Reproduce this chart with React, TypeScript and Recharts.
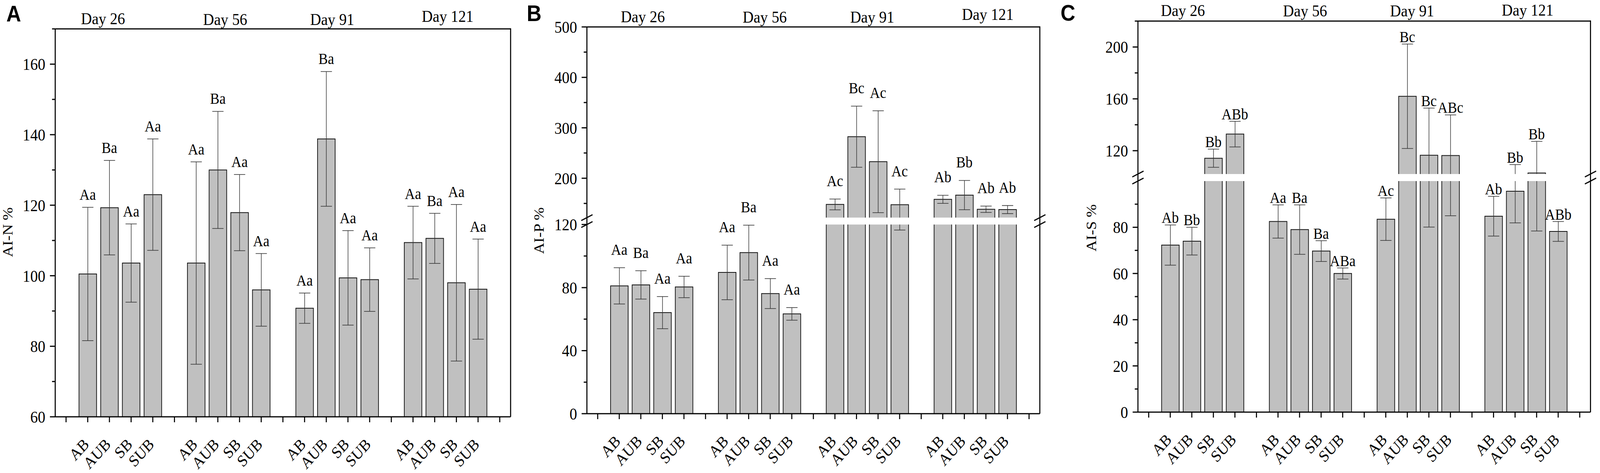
import React from 'react';
import { ComposedChart, Bar, Line, XAxis, YAxis, ErrorBar, LabelList, ReferenceArea } from 'recharts';

// ---------- data ----------
const TREATMENTS = ['AB', 'AUB', 'SB', 'SUB'];
const DAYS = ['Day 26', 'Day 56', 'Day 91', 'Day 121'];

// Panel A : AI-N %
const alnMean = [100.5, 119.3, 103.6, 123.0, 103.6, 130.0, 117.9, 96.0, 90.8, 138.8, 99.4, 98.9, 109.4, 110.6, 98.0, 96.2];
const alnErr = [18.9, 13.4, 11.1, 15.8, 28.7, 16.6, 10.8, 10.3, 4.3, 19.1, 13.4, 9.0, 10.3, 7.1, 22.2, 14.2];
const alnSig = ['Aa', 'Ba', 'Aa', 'Aa', 'Aa', 'Ba', 'Aa', 'Aa', 'Aa', 'Ba', 'Aa', 'Aa', 'Aa', 'Ba', 'Aa', 'Aa'];
const alnTicksMajor = [60, 80, 100, 120, 140, 160];
const alnTicksMinor = [70, 90, 110, 130, 150, 170];

// Panel B : AI-P %
const alpMean = [81.1, 81.7, 64.1, 80.4, 89.6, 102.2, 76.2, 63.3, 148.1, 282.4, 232.8, 147.5, 158.2, 166.6, 138.5, 137.9];
const alpErr = [11.5, 9.0, 10.2, 6.8, 17.3, 17.4, 9.5, 4.0, 10.7, 60.6, 101.0, 31.0, 8.0, 29.0, 6.3, 8.0];
const alpSig = ['Aa', 'Ba', 'Aa', 'Aa', 'Aa', 'Ba', 'Aa', 'Aa', 'Ac', 'Bc', 'Ac', 'Ac', 'Ab', 'Bb', 'Ab', 'Ab'];
const alpTicksMajor = [0, 40, 80, 120, 200, 300, 400, 500];
const alpTicksMinor = [20, 60, 100, 150, 250, 350, 450];

// Panel C : AI-S %
const alsMean = [72.3, 74.0, 114.2, 132.8, 82.5, 79.0, 69.7, 60.0, 83.5, 162.0, 116.5, 116.3, 84.8, 95.6, 102.8, 78.2];
const alsErr = [8.7, 6.0, 7.0, 9.9, 7.2, 10.7, 4.5, 2.4, 9.2, 40.3, 36.4, 31.3, 8.6, 13.7, 24.4, 4.3];
const alsSig = ['Ab', 'Bb', 'Bb', 'ABb', 'Aa', 'Ba', 'Ba', 'ABa', 'Ac', 'Bc', 'Bc', 'ABc', 'Ab', 'Bb', 'Bb', 'ABb'];
const alsTicksMajor = [0, 20, 40, 60, 80, 120, 160, 200];
const alsTicksMinor = [10, 30, 50, 70, 90, 140, 180, 220];

// ---------- styling ----------
const SERIF = '"Liberation Serif", "Times New Roman", serif';
const SANS = '"Liberation Sans", Arial, sans-serif';
const CW = 4550;
const CH = 1212;

type Brk = { lowMax: number; highMin: number; gap: number; k: number } | null;

function toD(v: number, b: Brk): number {
  if (!b) return v;
  if (v <= b.lowMax) return v;
  if (v >= b.highMin) return b.lowMax + b.gap + (v - b.highMin) * b.k;
  return b.lowMax + ((v - b.lowMax) / (b.highMin - b.lowMax)) * b.gap;
}

function buildRows(means: number[], errs: number[], sigs: string[], brk: Brk) {
  const rows: any[] = [];
  DAYS.forEach((_, g) => {
    rows.push({ key: `gap|${g}` });
    TREATMENTS.forEach((t, i) => {
      const idx = g * 4 + i;
      const m = means[idx];
      const e = errs[idx];
      const dm = toD(m, brk);
      const hi = toD(m + e, brk);
      const lo = toD(m - e, brk);
      rows.push({ key: `${t}|${g}`, bar: dm, err: [dm - lo, hi - dm], top: hi, sig: sigs[idx] });
    });
  });
  rows.push({ key: `gap|${DAYS.length}` });
  return rows;
}

function makeTicks(major: number[], minor: number[], brk: Brk) {
  const all = [
    ...major.map((v) => ({ v, major: true })),
    ...minor.map((v) => ({ v, major: false })),
  ].sort((a, b) => a.v - b.v);
  return all.map((t) => ({ ...t, d: toD(t.v, brk) }));
}

const PANELS = [
  {
    letter: 'A', letterX: 18, letterY: 55,
    title: 'AI-N %', titleX: 35, titleY: 595,
    means: alnMean, errs: alnErr, sigs: alnSig, major: alnTicksMajor, minor: alnTicksMinor,
    left: 0, width: 1500, plotLeft: 157, plotRight: 1452, plotTop: 74, plotBottom: 1068,
    domain: [60, 170], brk: null as Brk, labelOffset: 19,
    dayDx: [-49, -10, -14, 6], dayDy: [12, 10, 10, 18],
  },
  {
    letter: 'B', letterX: 1498, letterY: 54,
    title: 'AI-P %', titleX: 46, titleY: 591,
    means: alpMean, errs: alpErr, sigs: alpSig, major: alpTicksMajor, minor: alpTicksMinor,
    left: 1500, width: 1500, plotLeft: 1669, plotRight: 2957, plotTop: 69, plotBottom: 1060,
    domain: [0, 500], brk: { lowMax: 120, highMin: 122, gap: 4.4, k: 0.32 } as Brk, labelOffset: 33,
    dayDx: [-25, 15, 14, 36], dayDy: [12, 11, 11, 18],
  },
  {
    letter: 'C', letterX: 3016, letterY: 53,
    title: 'AI-S %', titleX: 117, titleY: 584,
    means: alsMean, errs: alsErr, sigs: alsSig, major: alsTicksMajor, minor: alsTicksMinor,
    left: 3000, width: 1550, plotLeft: 3236, plotRight: 4523, plotTop: 54, plotBottom: 1056,
    domain: [0, 220], brk: { lowMax: 100, highMin: 102, gap: 3.05, k: 0.561 } as Brk, labelOffset: 5,
    dayDx: [-56, -15, -17, 5], dayDy: [13, 12, 12, 14],
  },
];

const FrameShape = (p: any) => {
  const { x, y, width, height } = p;
  return (
    <g>
      <line x1={x} y1={y} x2={x + width} y2={y} stroke="#000" strokeWidth={3} />
      <line x1={x + width} y1={y - 1.5} x2={x + width} y2={y + height} stroke="#000" strokeWidth={3} />
    </g>
  );
};

const BreakShape = (p: any) => {
  const { x, y, width, height } = p;
  const slash = (cx: number, cy: number, k: string) => (
    <line key={k} x1={cx - 16} y1={cy + 7.5} x2={cx + 16} y2={cy - 7.5} stroke="#000" strokeWidth={3} />
  );
  return (
    <g>
      <rect x={x + 3} y={y} width={width - 6} height={height} fill="#fff" />
      {slash(x, y, 'a')}
      {slash(x, y + height, 'b')}
      {slash(x + width, y, 'c')}
      {slash(x + width, y + height, 'd')}
    </g>
  );
};

function Panel({ cfg }: { cfg: (typeof PANELS)[number] }) {
  const rows = buildRows(cfg.means, cfg.errs, cfg.sigs, cfg.brk);
  const ticks = makeTicks(cfg.major, cfg.minor, cfg.brk);
  const dMin = toD(cfg.domain[0], cfg.brk);
  const dMax = toD(cfg.domain[1], cfg.brk);
  const yAxisW = cfg.plotLeft - cfg.left;
  const marginRight = cfg.left + cfg.width - cfg.plotRight;

  const yTick = (p: any) => {
    const val = p.payload.value;
    const t = ticks.reduce((best, c) => (Math.abs(c.d - val) < Math.abs(best.d - val) ? c : best), ticks[0]);
    const len = t.major ? 15 : 9;
    return (
      <g>
        <line x1={p.x - len} x2={p.x} y1={p.y} y2={p.y} stroke="#000" strokeWidth={3} />
        {t.major && (
          <text x={p.x - 28} y={p.y} dy="0.35em" textAnchor="end" fontSize={43} fontFamily={SERIF} fill="#000">
            {t.v}
          </text>
        )}
      </g>
    );
  };

  const xTick = (p: any) => {
    const name = String(p.payload.value).split('|')[0];
    const ax = p.x + 6;
    const ay = p.y + 73;
    return (
      <g>
        <line x1={p.x} x2={p.x} y1={p.y} y2={p.y + 14} stroke="#000" strokeWidth={3} />
        {name !== 'gap' && (
          <text x={ax} y={ay} transform={`rotate(-45 ${ax} ${ay})`} textAnchor="end" fontSize={42} fontFamily={SERIF} fill="#000">
            {name}
          </text>
        )}
      </g>
    );
  };

  const titleContent = () => (
    <text
      x={cfg.titleX}
      y={cfg.titleY}
      transform={`rotate(-90 ${cfg.titleX} ${cfg.titleY})`}
      textAnchor="middle"
      fontSize={40}
      fontFamily={SERIF}
      fill="#000"
    >
      {cfg.title}
    </text>
  );

  return (
    <div style={{ position: 'absolute', left: cfg.left, top: 0, width: cfg.width, height: CH }}>
      <ComposedChart
        width={cfg.width}
        height={CH}
        data={rows}
        margin={{ top: cfg.plotTop, right: marginRight, bottom: 0, left: 0 }}
        style={{ fontFamily: SERIF }}
      >
        <XAxis
          dataKey="key"
          type="category"
          interval={0}
          height={CH - cfg.plotBottom}
          tickSize={0}
          tickMargin={0}
          tickLine={false}
          axisLine={{ stroke: '#000', strokeWidth: 3 }}
          tick={xTick}
        />
        <YAxis
          type="number"
          width={yAxisW}
          domain={[dMin, dMax]}
          allowDataOverflow
          ticks={ticks.map((t) => t.d)}
          interval={0}
          tickSize={0}
          tickMargin={0}
          tickLine={false}
          axisLine={{ stroke: '#000', strokeWidth: 3 }}
          tick={yTick}
          label={{ content: titleContent } as any}
        />
        <ReferenceArea
          x1={rows[0].key}
          x2={rows[rows.length - 1].key}
          y1={dMin}
          y2={dMax}
          ifOverflow="visible"
          fill="none"
          shape={FrameShape}
        />
        {DAYS.map((day, g) => (
          <ReferenceArea
            key={day}
            x1={`${TREATMENTS[0]}|${g}`}
            x2={`${TREATMENTS[TREATMENTS.length - 1]}|${g}`}
            y1={dMin}
            y2={dMax}
            ifOverflow="visible"
            fill="none"
            fillOpacity={0}
            stroke="none"
            label={(lp: any) => {
              const vb = lp.viewBox || {};
              return (
                <text
                  x={vb.x + vb.width / 2 + cfg.dayDx[g]}
                  y={vb.y - cfg.dayDy[g]}
                  textAnchor="middle"
                  fontSize={43}
                  fontFamily={SERIF}
                  fill="#000"
                >
                  {day}
                </text>
              );
            }}
          />
        ))}
        <Bar dataKey="bar" fill="#c0c0c0" stroke="#111" strokeWidth={2} barSize={50} isAnimationActive={false}>
          <ErrorBar dataKey="err" width={16} stroke="#333" strokeWidth={1.6} direction="y" />
        </Bar>
        <Line dataKey="top" stroke="none" dot={false} activeDot={false} isAnimationActive={false} legendType="none">
          <LabelList dataKey="sig" position="top" offset={cfg.labelOffset} fill="#000" fontSize={40} fontFamily={SERIF} />
        </Line>
        {cfg.brk && (
          <ReferenceArea
            x1={rows[0].key}
            x2={rows[rows.length - 1].key}
            y1={cfg.brk.lowMax}
            y2={cfg.brk.lowMax + cfg.brk.gap}
            ifOverflow="visible"
            fill="#fff"
            shape={BreakShape}
            {...({ zIndex: 1500 } as any)}
          />
        )}
      </ComposedChart>
    </div>
  );
}

export default function App() {
  const vw = typeof window !== 'undefined' && window.innerWidth ? window.innerWidth : CW;
  const vh = typeof window !== 'undefined' && window.innerHeight ? window.innerHeight : CH;
  const sx = Math.min(1, vw / CW);
  const sy = Math.min(1, vh / CH);
  return (
    <div style={{ position: 'absolute', left: 0, top: 0, width: CW * sx, height: CH * sy, overflow: 'hidden', background: '#fff' }}>
      <div
        style={{
          position: 'absolute',
          left: 0,
          top: 0,
          width: CW,
          height: CH,
          background: '#fff',
          transform: `scale(${sx}, ${sy})`,
          transformOrigin: '0 0',
        }}
      >
        {PANELS.map((cfg) => (
          <Panel key={cfg.letter} cfg={cfg} />
        ))}
        <svg width={CW} height={CH} style={{ position: 'absolute', left: 0, top: 0, pointerEvents: 'none' }}>
          {PANELS.map((cfg) => (
            <text key={cfg.letter} x={cfg.letterX} y={cfg.letterY} fontSize={58} fontWeight="bold" fontFamily={SANS} fill="#000">
              {cfg.letter}
            </text>
          ))}
        </svg>
      </div>
    </div>
  );
}
